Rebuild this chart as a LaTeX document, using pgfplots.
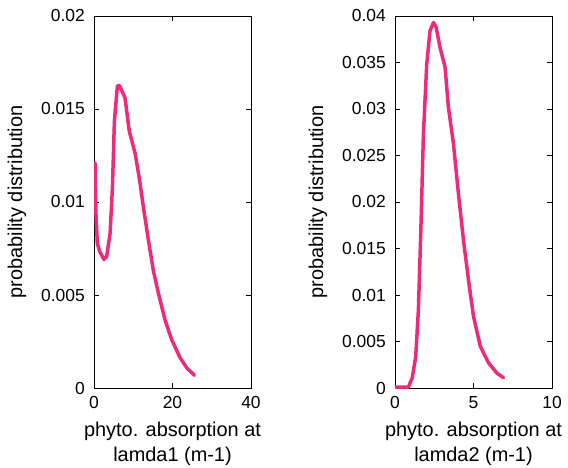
\documentclass[border=0pt]{standalone}
\usepackage{pgfplots}
\pgfplotsset{compat=1.18}
\usepackage{fontspec}
\setmainfont{Liberation Sans}
\definecolor{curve}{RGB}{236,44,123}
\begin{document}
\begin{tikzpicture}
\useasboundingbox (0bp,0bp) rectangle (568bp,468bp);
\pgfplotsset{
  every axis/.append style={
    scale only axis, width=157bp, height=372bp,
    anchor=south west,
    tick align=inside, major tick length=5bp,
    axis line style={line width=0.8bp}, every tick/.style={line width=0.8bp, black},
    /pgf/number format/assume math mode=true,
    tick label style={font=\fontsize{17.5}{20}\selectfont},
    label style={font=\fontsize{20}{25}\selectfont},
    scaled ticks=false,
    yticklabel style={/pgf/number format/fixed, /pgf/number format/precision=3, inner sep=0pt, xshift=-9bp},
    xticklabel style={inner sep=0pt, yshift=-8bp},
    xlabel style={align=center, at={(axis description cs:0.5,-0.092)}, anchor=north, inner sep=0pt},
    ylabel style={at={(axis description cs:-0.49,0.5)}, anchor=center, inner sep=0pt},
    ylabel={probability distribution},
  }
}
\begin{axis}[at={(94bp,80bp)},
  xmin=0, xmax=40, ymin=0, ymax=0.02,
  xtick={0,20,40}, ytick={0,0.005,0.01,0.015,0.02},
  xlabel={phyto. absorption at\\lamda1 (m-1)}]
\addplot[curve, line width=3.5bp, line join=round, line cap=round] coordinates {
(0.26,0.0121) (0.5,0.00937) (0.85,0.00777) (1.5,0.00732) (2.55,0.00691)
(3.2,0.00705) (4.1,0.0083) (4.7,0.0108) (5.2,0.01437) (5.96,0.01625)
(6.5,0.01625) (7.9,0.0156) (9.0,0.0138) (10.5,0.0126) (11.6,0.0112)
(12.6,0.0097) (13.9,0.0079) (15.1,0.00634) (16.4,0.0051) (18.1,0.00366)
(19.8,0.00259) (22.0,0.0016) (23.7,0.00107) (25.6,0.00068)
};
\end{axis}
\begin{axis}[at={(395bp,80bp)},
  xmin=0, xmax=10, ymin=0, ymax=0.04,
  xtick={0,5,10}, ytick={0,0.005,...,0.04},
  xlabel={phyto. absorption at\\lamda2 (m-1)}]
\addplot[curve, line width=3.5bp, line join=round, line cap=round] coordinates {
(0,0.0001) (0.85,0.0001) (1.1,0.0011) (1.32,0.0034) (1.49,0.0084)
(1.64,0.0166) (1.81,0.0273) (2.02,0.0348) (2.23,0.0384) (2.45,0.0393)
(2.62,0.0388) (2.87,0.0366) (3.19,0.0345) (3.4,0.0302) (3.72,0.0263)
(4.04,0.0209) (4.36,0.0159) (4.68,0.0116) (5.0,0.0077) (5.43,0.0045)
(5.96,0.0027) (6.49,0.0016) (6.91,0.0011)
};
\end{axis}
\end{tikzpicture}
\end{document}
